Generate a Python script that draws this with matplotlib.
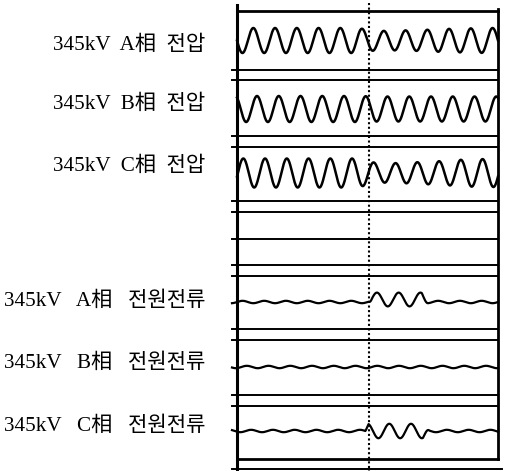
import matplotlib.pyplot as plt
import numpy as np

plt.rcParams['font.family'] = ['Liberation Serif', 'Noto Sans CJK KR', 'DejaVu Sans']

# channel labels (top to bottom)
labels = ["345kV  A相  전압", "345kV  B相  전압", "345kV  C相  전압",
          "345kV   A相   전원전류", "345kV   B相   전원전류", "345kV   C相   전원전류"]
label_y = [45, 104, 166, 301, 363, 426]

# voltage traces: baseline (px), phase of first peak (cycles), amplitude per cycle (px)
volt_base = [40.5, 109, 173]
volt_phase = [0.75, 0.92, 0.29]
volt_amp_A = [12.5, 12.5, 12.5, 12.5, 12.5, 12.5, 9.5, 10, 10.5, 11.5, 12, 12.5]
volt_amp_B = [13, 13, 13, 13, 13, 13, 12.5, 12.5, 12.5, 12.5, 12.5, 12.5]
volt_amp_C = [14.5, 14.5, 14.5, 14.5, 14.5, 14.5, 9.5, 10, 11, 12, 13.5, 14]

# current traces: baseline, ripple amplitude, burst after fault
cur_base = [302, 367, 431]
cur_ripple = [1.2, 1.2, 1.2]
burst_start = [6.05, None, 5.9]
burst_end = [8.8, None, 8.85]
burst_amp = [6.5, 0, 8]
burst_shift = [-2.5, 0, 0]
burst_peak = [6.46, 0, 6.02]

# horizontal separator lines (px)
sep_y = [70, 80, 136, 147, 201, 212, 239, 265, 276, 329, 340, 395, 406]

fault_t = 6.05
n_cycles = 12

fig = plt.figure(figsize=(5.07, 4.71), dpi=100)
ax = fig.add_axes([237 / 507, 0, 261 / 507, 1])
ax.set_xlim(0, n_cycles)
ax.set_ylim(471, 0)
ax.axis('off')

t = np.linspace(-0.23, n_cycles, 3000)
k = 'black'

for base, ph, amps in zip(volt_base, volt_phase, [volt_amp_A, volt_amp_B, volt_amp_C]):
    a = np.interp(t, np.arange(n_cycles) + 0.5, amps)
    y = base - a * np.cos(2 * np.pi * (t - ph))
    m = t >= 0
    ax.plot(t[m], y[m], color=k, lw=1.8, clip_on=False)

for i, base in enumerate(cur_base):
    y = base - cur_ripple[i] * np.sin(2 * np.pi * (t - 0.2 * i))
    if burst_start[i] is not None:
        env = np.clip(np.minimum((t - burst_start[i]) / 0.15, (burst_end[i] - t) / 0.3), 0, 1)
        y = y + env * (burst_shift[i] - burst_amp[i] * np.cos(2 * np.pi * (t - burst_peak[i])))
    ax.plot(t, y, color=k, lw=1.6, clip_on=False)

for yy in sep_y:
    ax.plot([-0.23, n_cycles], [yy, yy], color=k, lw=1.4, clip_on=False)

# frame
ax.plot([0, n_cycles], [11, 11], color=k, lw=2, clip_on=False)
ax.plot([0, n_cycles], [459, 459], color=k, lw=2, clip_on=False)
ax.plot([-0.23, 12.2], [469, 469], color=k, lw=1.4, clip_on=False)
ax.plot([0, 0], [5, 470], color=k, lw=2.2, clip_on=False)
ax.plot([n_cycles, n_cycles], [9, 459], color=k, lw=2, clip_on=False)
ax.plot([fault_t, fault_t], [3, 471], color=k, lw=1.5, ls=(0, (1, 1.2)), clip_on=False)

for lab, yy in zip(labels, label_y):
    ax.text(-1.47, yy, lab, ha='right', va='center', fontsize=15.2, color=k, clip_on=False)

fig.savefig('out.png', dpi=100, facecolor='white')
